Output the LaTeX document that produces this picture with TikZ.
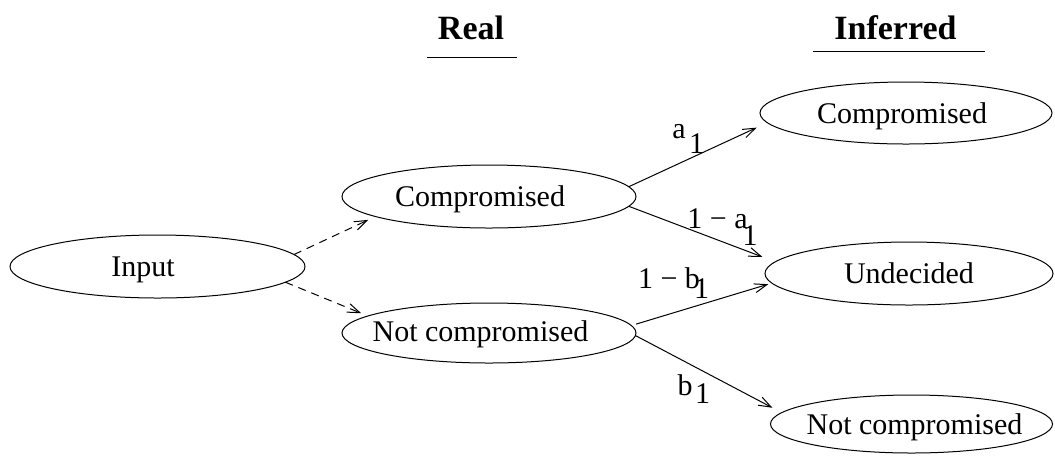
\documentclass[tikz,border=0pt]{standalone}
\usepackage{fontspec}
\setmainfont{Liberation Serif}
\usetikzlibrary{arrows.meta,shapes.geometric}
\newcommand\etxt[3]{\smash{\raisebox{-#2}{\hbox to 0pt{\hss\kern#1\relax#3\kern-#1\relax\hss}}}}
\begin{document}
\begin{tikzpicture}[x=0.4pt,y=-0.4pt,
  state/.style={ellipse,draw,line width=0.4pt,inner sep=0pt,outer sep=0pt,font=\fontsize{12}{14}\selectfont},
  title/.style={font=\fontsize{13.6}{16}\selectfont\bfseries,anchor=base,inner sep=0pt},
  lab/.style={font=\fontsize{12}{14}\selectfont,anchor=base,inner sep=0pt},
  arr/.style={-{Straight Barb[length=5pt,width=3.6pt]},line width=0.4pt},
  darr/.style={arr,dash pattern=on 3.2pt off 2.4pt}]
\useasboundingbox (0,0) rectangle (1055,455);
% titles
\node[title] (treal) at (471,39) {Real};
\node[title] (tinf) at (895.5,39) {Inferred};
\draw[line width=0.4pt] (427,57.5) -- (517,57.5);
\draw[line width=0.4pt] (813,51.5) -- (985,51.5);
% states
\node[state,minimum width=118pt,minimum height=25.2pt] (in) at (157.5,266.5) {\etxt{-5.8pt}{4pt}{Input}};
\node[state,minimum width=117.6pt,minimum height=25.2pt] (cr) at (489,196.5) {\etxt{-3.6pt}{4pt}{Compromised}};
\node[state,minimum width=117.6pt,minimum height=24pt] (ncr) at (489,333) {\etxt{-3.4pt}{3.4pt}{Not compromised}};
\node[state,minimum width=116.8pt,minimum height=24.8pt] (ci) at (906,113) {\etxt{-1.6pt}{4pt}{Compromised}};
\node[state,minimum width=115.2pt,minimum height=25.2pt] (un) at (909,273.5) {\etxt{0pt}{4pt}{Undecided}};
\node[state,minimum width=112.8pt,minimum height=23.2pt] (nci) at (911.5,424) {\etxt{1.2pt}{4pt}{Not compromised}};
% connectors
\draw[darr,shorten >=3.2pt] (in.5) -- (cr.190);
\draw[darr,shorten >=2.9pt] (in.-7) -- (ncr.172);
\draw[arr,shorten >=4.7pt] (cr.4.7) -- (ci.184);
\draw[arr,shorten >=5.5pt] (cr.-4.2) -- (un.175.6);
\draw[arr,shorten <=2pt,shorten >=1.5pt] (ncr.3) -- (un.184);
\draw[arr,shorten >=4.2pt] (ncr.-1.6) -- (nci.175);
% labels
\node[lab] (la) at (679,138) {a};
\node[lab] (la1) at (696.5,153) {1};
\node[lab] (lma) at (717.5,228) {1 − a};
\node[lab] (lma1) at (750,245) {1};
\node[lab] (lmb) at (669,288) {1 − b};
\node[lab] (lmb1) at (701.5,298) {1};
\node[lab] (lb) at (685,395) {b};
\node[lab] (lb1) at (702.5,403) {1};
\end{tikzpicture}
\end{document}
